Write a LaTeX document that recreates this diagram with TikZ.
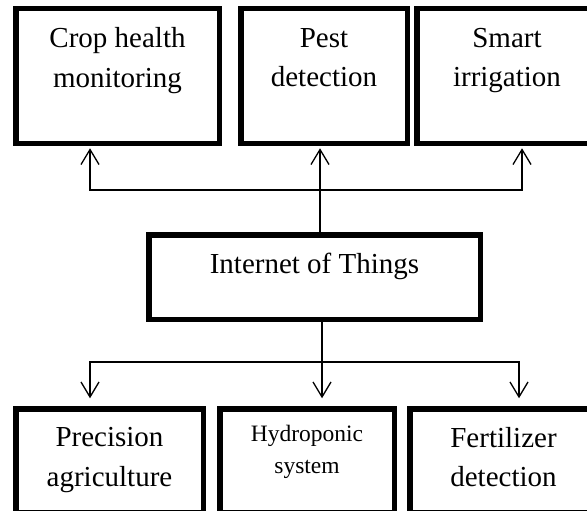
\documentclass[tikz,border=0pt]{standalone}
\usepackage{fontspec}
\setmainfont{Liberation Serif}
\usepackage{tikz}
\usetikzlibrary{positioning,arrows.meta}
\newcommand\boxfont{\fontsize{29pt}{39.5pt}\selectfont}
\newcommand\smallboxfont{\fontsize{23.5pt}{31.5pt}\selectfont}

\begin{document}
\begin{tikzpicture}[x=1pt, y=-1pt,
    box/.style={draw, line width=5.5pt, outer sep=0pt, inner sep=2pt, align=center, font=\boxfont},
    usebox/.style={box, minimum height=134.5pt, text depth=37.25pt},
    hub/.style={box, minimum height=84.5pt, text depth=27.25pt},
    areabox/.style={box, minimum height=104pt, text depth=7.75pt},
    link/.style={line width=1.3pt},
    tip/.style={-{Straight Barb[length=15pt, width=18pt]}}
]
    \useasboundingbox (0,0) rectangle (587,511);
    \clip (0,0) rectangle (587,511);

    \node [usebox, minimum width=203.5pt] (crop) at (117.5,76) {Crop health\\monitoring};
    \node [usebox, minimum width=166.5pt, right=21.5pt of crop] (pest) {Pest\\detection};
    \node [usebox, minimum width=180.5pt, right=9.5pt of pest] (irrig) {Smart\\irrigation};

    \node [hub, minimum width=331.5pt] (iot) at (314.5,277) {Internet of Things};

    \node [areabox, minimum width=187.5pt] (prec) at (109.5,460.75) {Precision\\agriculture};
    \node [areabox, minimum width=174.5pt, right=16.5pt of prec, font=\smallboxfont, text depth=22.5pt] (hydro) {Hydroponic\\system};
    \node [areabox, minimum width=187.5pt, right=15.5pt of hydro] (fert) {Fertilizer\\detection};

    % upper fork
    \coordinate (upfork) at ([xshift=5.5pt, yshift=44.75pt]iot.north);
    \coordinate (cropin) at ([xshift=-27.5pt]crop.south);
    \coordinate (irrigin) at ([xshift=15pt]irrig.south);
    \draw [link, tip, shorten >=5pt] ([xshift=5.5pt]iot.north) -- ([xshift=5.5pt]iot.north |- pest.south);
    \draw [link, {Straight Barb[length=15pt, width=18pt]}-{Straight Barb[length=15pt, width=18pt]}, shorten <=5pt, shorten >=5pt]
        (cropin) |- (upfork) -| (irrigin);

    % lower fork
    \coordinate (downfork) at ([xshift=7.5pt, yshift=-42.75pt]iot.south);
    \coordinate (precin) at ([xshift=-19.5pt]prec.north);
    \coordinate (fertin) at ([xshift=15.5pt]fert.north);
    \draw [link, tip, shorten >=10.5pt] ([xshift=7.5pt]iot.south) -- ([xshift=7.5pt]iot.south |- hydro.north);
    \draw [link, {Straight Barb[length=15pt, width=18pt]}-{Straight Barb[length=15pt, width=18pt]}, shorten <=10.5pt, shorten >=10.5pt]
        (precin) |- (downfork) -| (fertin);
\end{tikzpicture}
\end{document}
